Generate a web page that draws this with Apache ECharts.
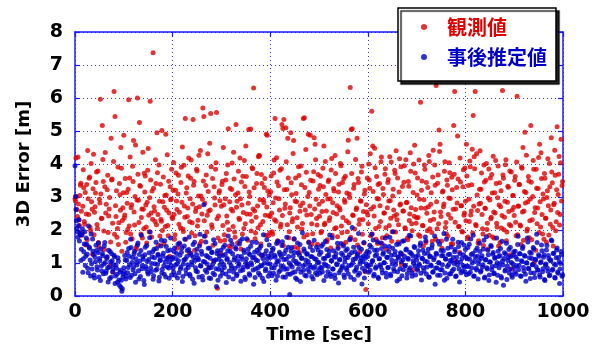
<!DOCTYPE html>
<html>
<head>
<meta charset="utf-8">
<script src="https://cdn.jsdelivr.net/npm/echarts@6/dist/echarts.min.js"></script>
</head>
<body style="margin:0">
<div id="main" style="width:600px;height:349px"></div>
<script>
// 1 sample per sec; arrays split into even seconds (0,2,..998) and odd seconds (1,3,..999)
var sampleStep = 2;
var seriesNames = ['観測値', '事後推定値'];
var xRange = [0, 1000, 200];
var yRange = [0, 8, 1];

// 観測値 (red), even seconds
var obsEven = [
  2.95,4.18,2.62,4.21,2.31,3.05,3.42,1.84,2.72,3.28, 2.18,1.55,3.38,4.41,2.47,3.61,1.98,2.86,1.27,4.3,
  2.54,3.12,3.76,2.05,1.62,2.93,5.96,2.36,5.17,3.47, 1.41,4.35,2.78,3.22,1.93,2.64,0.93,4.78,3.55,0.72,
  6.2,5.44,2.41,1.78,3.91,2.22,3.07,4.5,1.36,2.68,
  4.87,2.46,1.63,3.14,2.02,5.95,3.58,1.88,2.77,3.93, 4.71,2.15,4.58,1.49,6.0,2.9,5.26,3.33,2.38,1.76,
  2.63,3.72,3.64,2.09,2.84,4.47,1.95,5.9,2.52,3.18, 7.37,2.71,2.26,3.41,4.95,2.47,3.97,1.82,2.33,5.02,
  2.86,1.58,3.05,4.9,2.6,2.14,3.48,1.21,2.92,3.84,
  2.35,4.05,1.72,3.21,2.88,1.45,3.66,2.54,2.07,3.9, 4.52,1.96,2.73,5.38,3.12,2.41,3.64,1.31,2.95,4.12,
  2.22,5.35,3.47,1.83,2.66,3.79,2.3,4.27,1.58,3.03, 2.49,5.7,5.44,2.81,3.35,1.94,4.31,2.58,4.63,5.53,
  2.16,3.56,1.06,2.97,3.84,5.56,0.24,2.43,3.19,1.67,
  2.72,3.48,4.5,1.86,2.95,3.71,2.24,5.07,1.52,3.27, 2.63,4.03,2.11,3.55,1.78,5.2,2.87,3.12,2.36,4.18,
  1.43,2.76,3.63,2.05,3.32,4.55,2.49,1.69,5.05,3.02, 5.06,2.27,3.86,6.3,2.58,1.91,3.41,2.73,4.22,4.25,
  2.16,3.68,1.24,2.92,3.29,2.45,4.9,4.87,1.83,3.06,
  2.41,3.64,1.95,2.83,4.12,5.38,2.27,3.46,1.62,2.95, 3.81,2.18,5.2,5.08,5.35,2.66,5.1,3.23,4.78,1.77,
  2.52,4.95,3.07,2.34,4.71,1.48,3.58,2.86,2.09,3.92, 1.32,2.74,3.37,2.2,5.38,5.4,2.61,3.75,1.86,4.9,
  3.14,4.87,2.47,1.58,3.49,4.8,4.6,2.93,2.15,3.68,
  2.78,3.35,1.92,2.56,3.87,4.55,2.21,3.08,1.65,2.94, 3.52,2.37,1.46,4.17,2.83,3.26,2.04,3.71,2.49,1.8,
  3.15,2.68,4.02,2.12,3.44,1.57,2.91,3.63,2.28,1.95, 4.72,3.09,6.32,5.05,5.07,2.44,3.38,1.71,2.62,4.78,
  3.56,2.18,1.34,2.87,3.93,2.32,1.61,3.21,0.2,2.55,
  2.46,4.0,3.27,1.83,5.6,4.55,2.71,4.48,2.05,3.62, 1.59,2.94,3.41,2.26,4.21,1.77,3.08,2.52,3.86,1.42,
  2.68,3.53,2.14,2.89,4.06,1.95,3.24,2.43,3.71,4.4, 2.31,1.64,3.15,2.76,3.92,1.27,2.58,3.45,2.07,4.13,
  2.84,1.71,3.33,2.49,3.78,2.19,0.78,4.0,4.57,2.62,
  2.37,3.58,1.86,2.93,5.87,3.21,2.14,1.52,3.97,2.66, 3.44,1.98,2.71,4.08,2.29,3.13,1.66,4.42,2.55,3.36,
  6.38,2.04,3.67,5.03,4.6,2.41,1.45,3.18,2.79,4.07, 2.23,3.52,1.81,2.97,3.74,2.36,3.6,1.58,5.17,6.2,
  2.64,3.29,4.85,2.11,1.33,3.46,2.74,1.94,3.83,2.52,
  2.87,4.6,1.74,3.35,2.26,3.92,2.58,4.45,5.47,4.22, 6.2,2.13,3.06,1.61,2.79,4.4,3.24,2.47,1.88,3.97,
  2.66,3.51,2.02,1.43,3.85,2.91,2.34,3.68,1.79,2.55, 3.13,4.11,2.21,2.98,1.52,3.43,2.71,2.06,6.23,3.57,
  2.39,3.98,1.68,2.84,3.3,2.17,1.25,3.76,2.61,3.05,
  2.44,3.62,1.83,6.05,2.72,3.38,2.15,1.56,3.87,4.5, 2.58,4.96,3.14,1.97,2.86,3.49,2.28,5.17,1.71,3.02,
  3.84,2.53,1.39,3.27,2.67,4.2,4.6,2.09,3.56,1.88, 2.94,3.71,2.36,1.63,3.19,2.74,4.02,2.18,4.8,3.43,
  1.52,2.81,3.66,2.25,5.13,3.08,4.23,2.47,4.75,3.35
];

// 観測値 (red), odd seconds
var obsOdd = [
  2.88,3.02,2.41,2.79,2.14,3.36,2.57,1.92,3.83,2.26, 3.14,2.49,1.71,2.95,3.57,2.08,4.02,2.63,3.25,1.86,
  2.71,3.44,2.17,3.79,1.49,2.82,3.09,2.35,4.14,1.97, 3.31,2.52,1.18,3.66,2.43,2.99,1.64,3.52,2.21,4.08,
  1.87,2.74,3.19,2.05,1.56,3.41,2.6,3.87,2.29,3.13,
  2.37,3.56,1.93,2.81,3.24,2.12,4.21,2.68,1.74,3.47, 2.55,3.02,1.42,2.91,3.69,2.23,3.35,1.88,2.64,4.36,
  2.04,3.15,2.76,1.61,3.81,2.45,2.98,3.52,1.79,2.33, 3.27,2.58,4.13,2.16,3.74,1.54,2.87,3.39,2.27,1.99,
  3.61,2.69,2.11,3.06,4.28,1.83,2.52,3.31,2.94,2.39,
  3.21,2.47,1.86,3.73,2.62,3.09,2.18,1.57,3.44,2.84, 2.03,3.96,2.39,1.72,3.28,2.67,4.18,2.25,3.57,1.91,
  2.79,3.36,1.39,2.56,3.84,2.12,3.03,2.71,4.41,1.66, 2.93,3.49,2.28,1.82,3.67,2.45,3.17,0.87,2.61,3.92,
  2.08,1.54,3.31,2.76,4.04,2.34,1.76,3.13,2.89,1.28,
  3.38,2.14,2.77,1.69,3.52,2.43,3.97,2.01,2.86,1.47, 3.23,2.58,4.36,1.94,3.07,2.69,1.61,3.78,2.32,2.95,
  3.46,1.88,2.53,4.11,2.19,3.62,0.91,2.81,3.15,2.48, 1.97,3.89,2.64,3.28,1.74,2.39,3.71,2.07,4.26,2.92,
  1.58,3.41,2.26,2.83,3.56,1.84,2.7,3.18,2.44,1.92,
  3.16,2.52,1.87,3.73,2.31,2.97,4.19,1.68,3.34,2.61, 2.09,3.86,2.44,1.53,3.22,2.79,4.07,2.16,3.58,1.95,
  2.68,3.43,2.25,4.32,1.72,2.88,3.11,2.37,1.46,3.65, 2.57,3.94,2.03,2.82,1.79,3.29,4.44,2.46,3.02,1.64,
  2.73,3.51,2.19,1.89,3.77,2.64,4.13,2.35,1.57,3.24,
  2.42,3.63,1.96,2.87,3.31,2.16,4.08,2.58,1.71,3.47, 2.29,2.95,3.82,1.84,2.53,3.18,4.26,2.07,2.74,1.49,
  3.39,2.61,3.95,1.92,2.38,3.56,2.84,1.63,3.12,4.37, 2.22,2.99,1.78,3.71,2.46,3.27,2.03,4.14,2.67,1.55,
  3.44,2.31,2.89,3.76,1.87,2.56,3.09,0.74,2.77,3.58,
  2.19,3.52,4.31,2.64,1.88,3.17,2.43,3.89,1.72,2.96, 3.38,2.11,2.74,4.07,1.59,3.26,2.52,3.69,2.07,1.83,
  3.44,2.88,4.22,2.36,1.66,3.03,2.61,3.81,1.94,2.47, 3.58,2.16,4.16,2.79,0.96,3.32,2.58,3.95,2.04,2.83,
  1.76,3.47,2.29,4.34,2.68,1.98,3.14,2.42,3.73,2.21,
  3.06,2.38,4.12,1.81,2.67,3.49,2.13,2.92,3.84,1.62, 2.51,3.29,4.26,2.04,2.78,1.93,3.61,2.33,3.97,1.73,
  2.86,3.42,2.19,4.38,2.55,1.67,3.15,2.71,3.78,2.08, 1.89,3.36,2.47,4.04,2.96,1.58,3.22,2.63,3.69,2.24,
  1.05,2.82,3.55,2.11,4.18,2.74,1.96,3.31,2.45,3.88,
  2.28,3.64,1.79,2.93,4.09,2.46,3.37,1.91,2.72,3.86, 2.17,4.31,2.59,1.68,3.24,2.81,3.73,2.04,1.53,3.46,
  2.65,4.02,2.21,2.97,1.84,3.58,2.39,3.12,4.24,1.75, 2.52,3.41,2.09,3.94,2.76,1.62,3.19,2.44,3.67,2.01,
  2.87,4.13,1.94,3.33,2.56,3.79,2.13,0.83,3.05,2.69,
  3.51,2.24,4.06,1.86,2.73,3.38,2.12,3.91,2.55,1.69, 3.17,2.82,4.27,2.03,3.62,1.77,2.94,3.45,2.31,4.11,
  1.02,2.68,3.84,2.19,3.26,1.93,2.86,4.34,2.47,3.09, 1.72,3.57,2.36,2.99,4.16,1.85,3.31,2.61,3.76,2.08,
  2.77,4.42,1.98,3.22,2.53,3.69,2.15,4.04,2.88,3.47
];

// 事後推定値 (blue), even seconds
var estEven = [
  3.95,2.62,2.05,1.78,2.31,1.92,1.08,1.86,0.72,1.34, 1.95,1.21,1.57,0.84,2.12,1.45,0.61,0.98,1.73,1.26,
  0.55,1.04,1.38,0.79,1.61,1.14,0.47,0.91,1.29,0.68, 1.52,1.02,0.76,1.19,0.43,0.88,1.35,0.57,1.07,0.82,
  1.24,0.38,0.94,0.66,1.16,0.49,0.72,0.27,0.15,0.58,
  0.86,1.23,0.52,1.08,0.71,1.44,0.95,1.72,0.63,1.17, 0.88,1.36,0.42,1.01,1.55,0.77,1.26,0.59,1.84,0.93,
  1.12,0.35,1.48,0.82,1.05,0.67,1.31,1.94,0.74,1.19, 0.51,1.42,0.98,1.63,0.81,1.27,0.46,1.09,1.52,0.7,
  1.21,0.92,1.68,0.58,1.14,1.37,0.85,1.03,1.76,0.64,
  1.18,0.73,1.46,0.94,1.29,0.55,1.07,1.61,0.82,1.33, 0.44,0.97,1.52,1.12,0.68,1.38,0.87,1.79,0.61,1.24,
  0.95,1.56,0.39,1.08,0.76,1.42,1.15,0.58,1.87,0.91, 1.27,0.49,2.77,1.03,1.64,0.72,1.19,0.84,1.45,0.53,
  1.32,0.96,1.71,0.65,1.1,0.29,1.37,0.81,1.22,0.6,
  1.05,0.69,1.48,0.87,1.26,0.41,1.14,1.82,0.76,1.35, 0.93,1.58,0.52,1.09,0.84,1.43,0.66,1.21,0.98,1.67,
  0.45,1.12,0.79,1.39,0.57,1.02,1.74,0.88,1.29,0.63, 1.51,0.95,1.16,0.36,1.33,0.82,1.62,1.07,0.7,1.44,
  0.91,1.24,0.54,1.86,1.0,0.77,1.37,1.13,0.6,1.55,
  0.97,1.3,0.62,1.45,0.85,1.18,0.48,1.04,1.66,0.74, 1.27,0.92,1.53,0.58,1.11,0.81,1.39,1.78,0.67,1.2,
  0.05,0.94,1.47,0.71,1.08,1.32,0.55,0.99,1.61,0.83, 1.24,0.44,1.15,1.92,0.78,1.36,0.96,0.61,1.28,1.05,
  0.73,1.49,0.88,1.19,0.52,1.69,0.9,1.12,0.65,1.4,
  1.02,0.69,1.33,0.86,1.57,0.47,1.14,0.93,1.41,0.74, 1.23,1.85,0.59,1.06,0.82,1.37,0.64,1.18,0.97,1.6,
  0.4,1.09,0.78,1.3,0.91,1.52,0.56,1.15,0.85,1.43, 0.68,1.25,1.73,0.94,2.08,1.11,0.5,1.34,0.8,1.21,
  0.63,1.47,0.98,1.16,0.37,1.05,1.62,0.76,1.28,0.9,
  1.2,0.72,1.54,0.95,1.87,1.08,0.61,1.39,0.84,1.26, 1.65,0.53,1.13,0.9,1.44,0.7,1.31,1.01,1.76,0.58,
  1.17,0.87,1.5,0.66,1.24,0.97,1.95,0.75,1.35,1.06, 0.46,1.19,1.58,0.83,1.28,0.62,1.1,1.68,0.92,1.4,
  0.55,1.15,0.8,1.33,1.82,0.71,1.22,0.99,1.47,0.64,
  1.09,0.78,1.37,0.93,1.61,0.49,1.14,0.86,1.29,1.79, 0.67,1.04,1.42,0.57,1.21,0.91,1.55,0.74,1.16,0.36,
  1.3,0.85,1.66,1.0,0.63,1.38,0.8,1.23,1.9,0.7, 1.12,0.54,1.45,0.96,1.27,0.68,1.07,1.72,0.82,1.34,
  0.59,1.18,0.94,1.5,0.43,1.03,1.62,0.76,1.25,0.88,
  1.41,0.65,1.13,0.9,1.57,0.72,1.26,1.0,1.84,0.61, 1.19,0.84,1.46,0.52,1.08,1.35,0.77,1.22,0.95,1.69,
  0.58,1.11,0.86,1.39,0.47,1.03,1.53,0.8,1.27,0.68, 1.15,0.92,1.76,0.63,1.2,0.98,1.44,0.55,1.06,0.33,
  1.31,0.79,1.6,0.91,1.17,0.7,1.48,1.02,0.57,1.24,
  0.87,1.36,0.66,1.12,1.81,0.93,1.28,0.6,1.05,1.5, 0.76,1.21,0.45,1.0,1.64,0.83,1.33,0.71,1.14,0.96,
  1.43,0.56,1.09,1.87,0.8,1.25,0.64,1.01,1.55,0.74, 1.18,0.5,0.94,1.4,0.85,1.23,0.62,1.07,1.7,0.78,
  1.3,0.97,0.55,1.16,1.46,0.69,1.04,0.82,1.35,0.6
];

// 事後推定値 (blue), odd seconds
var estOdd = [
  3.02,2.28,1.94,2.13,1.67,1.85,1.42,2.04,1.13,1.58, 0.93,1.76,1.27,0.71,1.49,1.09,1.88,0.82,1.36,0.64,
  1.18,1.54,0.89,1.31,0.58,1.07,1.43,0.76,1.22,0.97, 1.62,0.69,1.14,0.86,1.39,0.53,1.03,1.28,0.74,0.95,
  1.19,0.61,0.84,0.42,1.06,0.33,0.78,0.48,0.22,0.67,
  0.74,1.09,0.61,1.32,0.87,1.21,0.56,1.47,1.02,0.79, 1.28,0.68,1.13,0.94,1.61,0.52,1.06,1.38,0.83,1.19,
  0.47,1.25,0.9,1.53,0.72,1.11,1.77,0.85,0.99,1.34, 0.62,1.16,0.78,1.44,0.96,1.23,0.57,1.08,1.69,0.81,
  1.3,0.66,1.04,1.5,0.89,1.17,0.54,1.4,0.93,1.12,
  0.84,1.35,0.63,1.14,0.98,1.57,0.71,1.24,0.88,1.46, 0.59,1.09,1.72,0.8,1.2,0.95,1.41,0.66,1.3,1.03,
  0.51,1.17,1.63,0.86,1.26,0.74,1.1,1.52,0.92,1.36, 0.6,1.05,1.81,0.78,1.23,0.97,1.45,0.55,1.15,0.87,
  1.33,0.69,1.07,1.59,0.83,1.29,0.48,1.12,0.94,1.39,
  0.8,1.23,0.96,1.54,0.67,1.11,1.37,0.58,1.02,1.69, 0.85,1.28,0.73,1.16,1.47,0.62,1.06,0.91,1.58,0.77,
  1.2,1.74,0.88,1.32,0.5,1.13,0.97,1.43,0.68,1.25, 1.01,1.63,0.79,1.18,0.56,1.09,1.39,0.86,1.3,0.64,
  1.52,0.93,1.14,0.44,1.27,0.82,1.71,0.99,1.21,0.71,
  1.17,0.86,1.4,0.69,1.24,0.95,1.59,0.61,1.07,1.33, 0.78,1.19,1.65,0.9,1.29,0.57,1.12,0.83,1.48,1.0,
  0.66,1.36,0.88,1.21,1.74,0.74,1.05,0.5,1.31,0.97, 1.56,0.72,1.15,0.91,1.43,0.63,1.09,1.27,0.81,1.62,
  0.94,1.2,0.59,1.38,0.84,1.13,0.7,1.49,1.02,0.79,
  1.26,0.87,1.51,0.73,1.14,0.98,1.66,0.6,1.22,0.9, 1.35,0.67,1.08,1.77,0.82,1.19,0.53,1.29,0.95,1.44,
  0.71,1.11,1.59,0.86,1.24,0.64,1.03,1.38,0.79,1.17, 0.92,1.71,0.57,1.32,1.0,1.48,0.75,1.13,0.88,1.27,
  1.9,0.69,1.06,1.42,0.84,1.21,0.55,1.15,0.97,1.36,
  0.92,1.33,0.78,1.48,1.05,1.7,0.66,1.22,0.89,1.4, 0.57,1.13,0.95,1.61,0.8,1.27,1.01,1.52,0.7,1.18,
  0.87,1.35,1.78,0.62,1.09,1.45,0.83,1.25,0.96,1.56, 0.74,1.16,0.52,1.31,1.04,1.66,0.8,1.21,0.93,1.43,
  0.68,1.12,1.84,0.86,1.29,0.6,1.07,1.5,0.91,1.19,
  0.83,1.24,0.97,1.53,0.69,1.15,1.39,0.76,1.06,1.68, 0.88,1.3,0.58,1.19,0.94,1.46,0.72,1.1,1.82,0.85,
  1.27,0.63,1.02,1.57,0.8,1.22,0.95,1.37,0.48,1.13, 1.72,0.9,1.26,0.67,1.08,1.49,0.77,1.17,0.99,1.41,
  0.61,1.04,1.63,0.82,1.28,0.71,1.14,0.93,1.55,0.74,
  1.18,0.91,1.47,0.68,1.12,1.73,0.85,1.29,0.6,1.06, 1.38,0.79,1.21,0.97,1.6,0.73,1.15,0.88,1.43,0.55,
  1.09,1.8,0.82,1.25,0.64,1.03,1.5,0.9,1.32,0.7, 1.17,0.42,1.01,1.36,0.86,1.22,0.59,1.66,0.94,1.14,
  0.76,1.27,0.5,1.08,1.41,0.81,1.2,0.63,0.98,1.34,
  0.72,1.19,0.92,1.56,0.8,1.28,0.61,1.07,1.44,0.87, 1.23,0.66,1.01,1.76,0.84,1.16,0.53,1.3,0.95,1.47,
  0.7,1.12,0.89,1.62,0.78,1.21,0.58,1.04,1.37,0.83, 1.25,0.47,0.97,1.53,0.75,1.14,0.64,1.09,1.68,0.81,
  1.29,0.56,0.94,1.4,0.73,1.17,0.38,0.99,1.26,0.65
];

function toPoints(values, offset) {
  return values.map(function (v, i) { return [offset + i * sampleStep, v]; });
}

var font = 'DejaVu Sans';
var jpFont = 'Noto Sans CJK JP';
var frameBlue = '#1a1aff';
var gridBlue = '#3535ff';
var red = '#e00000';
var blue = '#0000c8';

var chart = echarts.init(document.getElementById('main'));

function axisBase(range) {
  return {
    type: 'value',
    min: range[0], max: range[1], interval: range[2],
    axisLine: { show: true, onZero: false, lineStyle: { color: frameBlue, width: 1.5 } },
    axisTick: { show: true, inside: true, length: 5, lineStyle: { color: frameBlue, width: 1.2 } }
  };
}

var labelStyle = { fontFamily: font, fontWeight: 'bold', fontSize: 19, color: '#000',
  formatter: function (v) { return String(v); } };

var xMain = axisBase(xRange);
xMain.position = 'bottom';
xMain.name = 'Time [sec]';
xMain.nameLocation = 'middle';
xMain.nameGap = 29;
xMain.nameTextStyle = { fontFamily: font, fontWeight: 'bold', fontSize: 18, color: '#000' };
xMain.axisLabel = Object.assign({ margin: 6 }, labelStyle);
xMain.splitLine = { show: true, lineStyle: { color: gridBlue, width: 1, type: [1, 3] } };

var xTop = axisBase(xRange);
xTop.position = 'top';
xTop.axisLabel = { show: false };
xTop.splitLine = { show: false };

var yMain = axisBase(yRange);
yMain.position = 'left';
yMain.name = '3D Error [m]';
yMain.nameLocation = 'middle';
yMain.nameGap = 42;
yMain.nameTextStyle = { fontFamily: font, fontWeight: 'bold', fontSize: 18, color: '#000' };
yMain.axisLabel = Object.assign({ margin: 12 }, labelStyle);
yMain.splitLine = { show: true, lineStyle: { color: gridBlue, width: 1, type: [1, 3] } };

var yRight = axisBase(yRange);
yRight.position = 'right';
yRight.axisLabel = { show: false };
yRight.splitLine = { show: false };

chart.setOption({
  animation: false,
  backgroundColor: '#fff',
  grid: { left: 75, right: 37, top: 32, bottom: 51 },
  legend: {
    orient: 'vertical',
    left: 398, top: 8,
    padding: [8, 9, 13, 23],
    itemGap: 8,
    itemWidth: 6, itemHeight: 6,
    backgroundColor: '#fff',
    borderColor: '#000', borderWidth: 1.5, borderRadius: 0,
    shadowColor: 'rgba(0,0,0,0.85)', shadowBlur: 1, shadowOffsetX: 3, shadowOffsetY: 3,
    textStyle: { fontFamily: jpFont, fontWeight: 'bold', fontSize: 20, lineHeight: 22, padding: [0, 0, 0, 15] },
    data: [
      { name: seriesNames[0], icon: 'circle', textStyle: { color: red } },
      { name: seriesNames[1], icon: 'circle', textStyle: { color: blue } }
    ]
  },
  xAxis: [xMain, xTop],
  yAxis: [yMain, yRight],
  series: [
    {
      name: seriesNames[0], type: 'scatter', xAxisIndex: 0, yAxisIndex: 0,
      symbolSize: 5, itemStyle: { color: red },
      emphasis: { disabled: true },
      data: toPoints(obsEven, 0).concat(toPoints(obsOdd, 1))
    },
    {
      name: seriesNames[1], type: 'scatter', xAxisIndex: 0, yAxisIndex: 0,
      symbolSize: 5, itemStyle: { color: blue },
      emphasis: { disabled: true },
      data: toPoints(estEven, 0).concat(toPoints(estOdd, 1))
    }
  ]
});
</script>
</body>
</html>
